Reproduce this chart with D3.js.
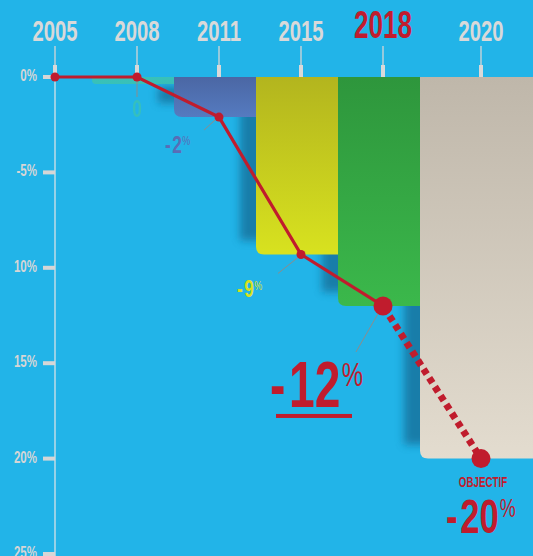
<!DOCTYPE html>
<html lang="fr">
  <head>
    <meta charset="UTF-8" />
    <title>Objectif -20%</title>
    <script src="https://d3js.org/d3.v7.min.js"></script>
    <style>
      * {
        margin: 0;
        padding: 0;
      }
      body {
        background: #22b4e8;
        overflow: hidden;
      }
      text {
        font-family: "Liberation Sans", "DejaVu Sans", sans-serif;
      }
    </style>
  </head>

  <body></body>

  <script>
    // données
    let years = ["2005", "2008", "2011", "2015", "2018", "2020"];
    let values = [0, 0, -2.1, -9.3, -12, -20];
    let labels = ["", "0", "-2", "-9", "-12", "-20"];
    let yTicks = [0, -5, -10, -15, -20, -25];
    let yTickLabels = ["0%", "-5%", "10%", "15%", "20%", "25%"];

    let w = 533;
    let h = 556;

    let svg = d3
      .select("body")
      .append("svg")
      .attr("width", w)
      .attr("height", h);

    svg.append("rect").attr("width", w).attr("height", h).attr("fill", "#22b4e8");

    // échelles
    let x = d3.scaleLinear().domain([0, 4, 5]).range([55, 383, 481]);
    let barX = d3.scaleLinear().domain([1, 5]).range([92, 420]);
    let y = d3.scaleLinear().domain([0, -25]).range([77, 554]);

    let defs = svg.append("defs");
    defs
      .append("filter")
      .attr("id", "blur")
      .attr("x", "-50%")
      .attr("y", "-50%")
      .attr("width", "200%")
      .attr("height", "200%")
      .append("feGaussianBlur")
      .attr("stdDeviation", 4);

    // couleurs des barres (haut, bas)
    let barColors = [
      null,
      ["#3cc3b0", "#3cc3b0"],
      ["#4b67a4", "#557bc0"],
      ["#b3b51e", "#d8e21f"],
      ["#2e963c", "#3bb84b"],
      ["#bfb7aa", "#e3dccf"],
    ];
    barColors.forEach((c, i) => {
      if (!c) return;
      let g = defs
        .append("linearGradient")
        .attr("id", "grad" + i)
        .attr("x1", 0)
        .attr("y1", 0)
        .attr("x2", 0)
        .attr("y2", 1);
      g.append("stop").attr("offset", "0%").attr("stop-color", c[0]);
      g.append("stop").attr("offset", "100%").attr("stop-color", c[1]);
    });

    // axe vertical
    svg
      .append("line")
      .attr("x1", x(0))
      .attr("x2", x(0))
      .attr("y1", y(0))
      .attr("y2", h)
      .attr("stroke", "#e6e6e6")
      .attr("stroke-width", 1.2);

    let yAxis = svg.append("g").attr("class", "y-axis");
    yTicks.forEach((t, i) => {
      yAxis
        .append("rect")
        .attr("x", x(0) - 12)
        .attr("y", y(t) - 2)
        .attr("width", 12)
        .attr("height", 4)
        .attr("fill", "#d6d6d6");
      yAxis
        .append("text")
        .attr("transform", "translate(" + (x(0) - 18) + "," + (y(t) + 4) + ") scale(0.72,1)")
        .attr("text-anchor", "end")
        .attr("font-size", 16)
        .attr("font-weight", "bold")
        .attr("fill", "#d6d6d6")
        .text(yTickLabels[i]);
    });

    // années + repères du haut
    let xAxis = svg.append("g").attr("class", "x-axis");
    years.forEach((yr, i) => {
      let cx = x(i);
      let hl = yr === "2018";
      xAxis
        .append("text")
        .attr("transform", "translate(" + cx + "," + (hl ? 38 : 41) + ") scale(" + (hl ? 0.67 : 0.7) + ",1)")
        .attr("text-anchor", "middle")
        .attr("font-size", hl ? 39 : 29)
        .attr("font-weight", "bold")
        .attr("fill", hl ? "#c11c2e" : "#d9d9d9")
        .text(yr);
      xAxis
        .append("line")
        .attr("x1", cx)
        .attr("x2", cx)
        .attr("y1", 46)
        .attr("y2", 65)
        .attr("stroke", "#d6d6d6")
        .attr("stroke-width", 1.3);
      xAxis
        .append("rect")
        .attr("x", cx - 2)
        .attr("y", 65)
        .attr("width", 4)
        .attr("height", y(0) - 65)
        .attr("fill", "#d9d9d9");
    });

    // ombres puis barres
    let shadows = svg.append("g").attr("class", "shadows");
    let bars = svg.append("g").attr("class", "bars");
    values.forEach((v, i) => {
      if (i === 0) return;
      let x0 = barX(i);
      let bw = i === 5 ? 140 : 86;
      let bottom = Math.max(y(v), y(0) + 7);
      if (i >= 2) {
        shadows
          .append("rect")
          .attr("x", x0 - 16)
          .attr("y", y(0) + 10)
          .attr("width", 30)
          .attr("height", Math.max(bottom - y(0) - 24, 4))
          .attr("fill", "#14709a")
          .attr("opacity", 0.8)
          .attr("filter", "url(#blur)");
      }
      let path = d3.path();
      let r = i === 1 ? 4 : 8;
      let y0 = y(0);
      path.moveTo(x0, y0);
      path.lineTo(x0 + bw, y0);
      path.lineTo(x0 + bw, bottom);
      path.lineTo(x0 + r, bottom);
      path.quadraticCurveTo(x0, bottom, x0, bottom - r);
      path.closePath();
      bars
        .append("path")
        .attr("d", path.toString())
        .attr("fill", "url(#grad" + i + ")")
        .attr("opacity", i === 1 ? 0.85 : 1);
    });

    // traits de rappel
    let leaders = [
      null,
      [0, 4, 0, 20],
      [-3, 2, -15, 13],
      [-3, 3, -23, 19],
      [-4, 6, -27, 46],
      null,
    ];
    leaders.forEach((l, i) => {
      if (!l) return;
      svg
        .append("line")
        .attr("x1", x(i) + l[0])
        .attr("y1", y(values[i]) + l[1])
        .attr("x2", x(i) + l[2])
        .attr("y2", y(values[i]) + l[3])
        .attr("stroke", "#8c8c8c")
        .attr("stroke-width", 1);
    });

    // courbe
    let line = d3
      .line()
      .x((d) => x(d[0]))
      .y((d) => y(d[1]));
    let pts = values.map((v, i) => [i, v]);

    svg
      .append("path")
      .attr("d", line(pts.slice(0, 5)))
      .attr("fill", "none")
      .attr("stroke", "#c01c2d")
      .attr("stroke-width", 3.2);

    svg
      .append("path")
      .attr("d", line(pts.slice(4)))
      .attr("fill", "none")
      .attr("stroke", "#c01c2d")
      .attr("stroke-width", 7)
      .attr("stroke-dasharray", "6,4.5")
      .attr("stroke-dashoffset", -12);

    svg
      .selectAll("circle.pt")
      .data(pts)
      .enter()
      .append("circle")
      .attr("class", "pt")
      .attr("cx", (d) => x(d[0]))
      .attr("cy", (d) => y(d[1]))
      .attr("r", (d) => (d[0] >= 4 ? 9.5 : 4.5))
      .attr("fill", "#c01c2d");

    // étiquettes de valeurs
    let labelStyle = [
      null,
      { dx: 0, dy: 40, size: 24, color: "#3cc3b0", pct: false, anchor: "middle", op: 0.75 },
      { dx: -54, dy: 36, size: 24, color: "#5a6cb6", pct: true },
      { dx: -64, dy: 43, size: 24, color: "#d8e21f", pct: true },
      { dx: -113, dy: 101, size: 64, color: "#c01c2d", pct: true },
      { dx: -35, dy: 74, size: 48, color: "#c01c2d", pct: true },
    ];
    labels.forEach((lab, i) => {
      let s = labelStyle[i];
      if (!s) return;
      let t = svg
        .append("text")
        .attr("transform", "translate(" + (x(i) + s.dx) + "," + (y(values[i]) + s.dy) + ") scale(0.72,1)")
        .attr("text-anchor", s.anchor || "start")
        .attr("fill", s.color)
        .attr("opacity", s.op || 1)
        .attr("font-size", s.size)
        .attr("font-weight", "bold");
      let num = lab.replace("-", "");
      if (lab.startsWith("-")) {
        t.append("tspan").text("-");
        t.append("tspan").text(num).attr("dx", s.size * 0.08);
      } else {
        t.append("tspan").text(num);
      }
      if (s.pct) {
        t.append("tspan")
          .text("%")
          .attr("font-size", s.size * 0.52)
          .attr("font-weight", "normal")
          .attr("dx", s.size * 0.03)
          .attr("dy", -s.size * 0.33);
      }
    });

    // soulignement du -12%
    svg
      .append("rect")
      .attr("x", x(4) - 107)
      .attr("y", y(-12) + 108)
      .attr("width", 76)
      .attr("height", 4)
      .attr("fill", "#c01c2d");

    svg
      .append("text")
      .attr("transform", "translate(" + (x(5) + 2) + "," + (y(-20) + 28) + ") scale(0.7,1)")
      .attr("text-anchor", "middle")
      .attr("font-size", 14)
      .attr("font-weight", "bold")
      .attr("fill", "#c01c2d")
      .text("OBJECTIF");
  </script>
</html>
